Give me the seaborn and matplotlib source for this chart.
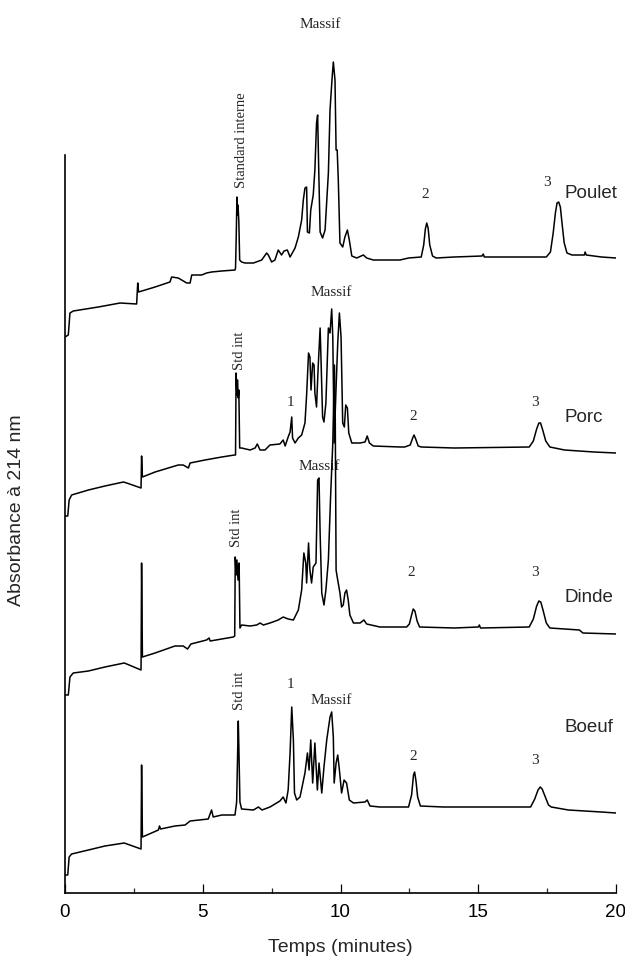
import matplotlib
matplotlib.use("Agg")
import matplotlib.pyplot as plt
import seaborn as sns

# Chromatogrammes (absorbance a 214 nm) des quatre viandes, traces empiles
# temps en minutes, absorbance en unites arbitraires (decalage compris)
poulet_t = [0.00, 0.12, 0.18, 0.30, 1.21, 2.00, 2.60, 2.64, 2.67, 3.27, 3.81, 3.87, 4.11, 4.42,
            4.54, 4.60, 4.96, 5.14, 5.32, 5.69, 6.17, 6.19, 6.22, 6.24, 6.26, 6.28, 6.31, 6.34,
            6.41, 6.53, 6.84, 7.14, 7.32, 7.38, 7.50, 7.62, 7.74, 7.86, 7.95, 8.07, 8.17, 8.35,
            8.47, 8.59, 8.65, 8.71, 8.77, 8.80, 8.87, 8.92, 9.01, 9.07, 9.13, 9.17, 9.21, 9.26,
            9.35, 9.44, 9.56, 9.62, 9.69, 9.74, 9.80, 9.84, 9.88, 9.92, 9.98, 10.08, 10.16,
            10.25, 10.32, 10.41, 10.59, 10.83, 10.95, 11.19, 12.16, 12.47, 12.93, 13.02, 13.08,
            13.13, 13.18, 13.24, 13.34, 13.47, 14.13, 15.14, 15.18, 15.22, 17.47, 17.62, 17.72,
            17.80, 17.86, 17.92, 17.98, 18.04, 18.12, 18.22, 18.40, 18.85, 18.88, 18.92, 19.47,
            20.00]
poulet_abs = [556, 558, 580, 582, 586, 590, 589, 610, 601, 606, 611, 616, 615, 610,
              610, 618, 618, 620, 621, 622, 623, 625, 663, 696, 678, 688, 671, 633,
              631, 630, 630, 633, 640, 638, 631, 633, 643, 638, 642, 643, 636, 645,
              656, 673, 693, 705, 706, 661, 660, 683, 698, 723, 770, 778, 723, 661,
              655, 663, 720, 783, 813, 831, 813, 743, 743, 713, 650, 646, 656,
              663, 653, 637, 635, 638, 635, 633, 633, 635, 636, 648, 664,
              670, 665, 648, 637, 635, 636, 637, 639, 636, 636, 641, 660,
              680, 690, 691, 686, 670, 650, 640, 638, 638, 641, 638, 636,
              635]

porc_t = [0.00, 0.10, 0.15, 0.24, 0.85, 1.45, 2.12, 2.24, 2.76, 2.78, 2.81, 3.27, 4.11, 4.29,
          4.48, 4.54, 5.08, 5.69, 6.15, 6.19, 6.21, 6.24, 6.26, 6.29, 6.31, 6.34, 6.41, 6.72,
          6.90, 6.98, 7.08, 7.26, 7.44, 7.80, 7.92, 7.99, 8.10, 8.17, 8.23, 8.26, 8.35, 8.47,
          8.59, 8.71, 8.77, 8.84, 8.89, 8.93, 8.99, 9.04, 9.07, 9.13, 9.19, 9.26, 9.29, 9.35,
          9.40, 9.47, 9.56, 9.62, 9.68, 9.72, 9.77, 9.84, 9.90, 9.96, 10.02, 10.08, 10.14,
          10.19, 10.25, 10.30, 10.41, 10.71, 10.89, 10.97, 11.05, 11.19, 12.16, 12.33, 12.53,
          12.62, 12.67, 12.73, 12.82, 12.93, 14.13, 16.85, 17.00, 17.12, 17.20, 17.26, 17.34,
          17.45, 17.60, 18.13, 19.20, 20.00]
porc_abs = [377, 377, 393, 398, 403, 407, 411, 410, 405, 437, 416, 421, 428, 428,
            425, 430, 433, 436, 438, 438, 520, 498, 513, 495, 503, 445, 445, 443,
            445, 449, 443, 443, 448, 449, 453, 447, 456, 461, 476, 455, 450, 455,
            458, 470, 498, 540, 536, 503, 530, 528, 500, 486, 526, 565, 536, 476,
            471, 490, 565, 560, 584, 556, 450, 506, 550, 580, 556, 470, 466,
            488, 485, 460, 450, 450, 451, 457, 450, 447, 446, 446, 448,
            455, 458, 454, 447, 446, 445, 446, 452, 464, 470, 470, 463,
            452, 446, 443, 441, 440]

dinde_t = [0.00, 0.12, 0.18, 0.30, 0.85, 1.45, 2.15, 2.24, 2.76, 2.78, 2.81, 3.27, 3.99, 4.29,
           4.45, 4.57, 5.14, 5.23, 5.27, 5.69, 6.11, 6.16, 6.18, 6.21, 6.24, 6.28, 6.32, 6.35,
           6.41, 6.72, 6.96, 7.08, 7.20, 7.44, 7.74, 7.92, 8.10, 8.29, 8.47, 8.59, 8.67, 8.74,
           8.77, 8.84, 8.89, 8.95, 9.01, 9.11, 9.17, 9.22, 9.26, 9.32, 9.40, 9.47, 9.56, 9.64,
           9.72, 9.78, 9.81, 9.84, 9.88, 9.98, 10.04, 10.10, 10.16, 10.22, 10.28, 10.34, 10.47,
           10.71, 10.85, 10.95, 11.43, 12.16, 12.40, 12.50, 12.58, 12.64, 12.70, 12.78, 12.87,
           14.13, 15.00, 15.04, 15.08, 16.85, 17.00, 17.12, 17.20, 17.27, 17.35, 17.47, 17.60,
           18.67, 18.80, 20.00]
dinde_abs = [198, 198, 216, 220, 222, 226, 230, 229, 223, 330, 236, 240, 247, 247,
             244, 249, 253, 255, 252, 254, 256, 257, 336, 318, 333, 313, 330, 265,
             268, 267, 268, 270, 268, 270, 273, 276, 274, 273, 283, 303, 340, 330,
             310, 350, 323, 310, 326, 330, 413, 415, 360, 300, 288, 303, 333, 396,
             450, 528, 473, 323, 316, 300, 286, 288, 300, 303, 293, 278, 270,
             270, 273, 269, 266, 266, 266, 269, 278, 284, 282, 272, 266,
             265, 266, 268, 265, 266, 274, 287, 292, 291, 283, 270, 265,
             263, 260, 259]

boeuf_t = [0.00, 0.10, 0.15, 0.24, 0.85, 1.45, 2.15, 2.76, 2.78, 2.81, 3.39, 3.43, 3.47, 3.99,
           4.36, 4.54, 5.20, 5.32, 5.38, 5.69, 6.17, 6.23, 6.29, 6.31, 6.35, 6.41, 6.84, 7.02,
           7.15, 7.44, 7.80, 7.92, 8.02, 8.10, 8.17, 8.23, 8.29, 8.33, 8.41, 8.53, 8.71, 8.80,
           8.86, 8.92, 8.99, 9.07, 9.16, 9.22, 9.32, 9.40, 9.50, 9.62, 9.68, 9.74, 9.77, 9.84,
           9.90, 9.96, 10.04, 10.13, 10.22, 10.32, 10.47, 10.89, 10.97, 11.07, 11.43, 12.16,
           12.47, 12.58, 12.65, 12.69, 12.74, 12.80, 12.90, 13.73, 16.90, 17.05, 17.17, 17.25,
           17.32, 17.42, 17.55, 17.65, 18.27, 19.47, 20.00]
boeuf_abs = [18, 18, 36, 39, 43, 47, 50, 44, 128, 56, 63, 67, 64, 67,
             68, 72, 74, 83, 76, 78, 78, 91, 172, 146, 91, 84, 83, 86,
             83, 86, 92, 96, 90, 103, 140, 186, 153, 100, 93, 96, 120, 140,
             123, 153, 110, 150, 103, 130, 100, 126, 153, 176, 181, 156, 110, 130,
             138, 123, 100, 113, 110, 93, 90, 91, 93, 87, 86, 86,
             86, 98, 118, 121, 112, 96, 87, 86, 86, 94, 103, 106,
             104, 97, 88, 86, 83, 81, 80]

echantillons = ["Poulet", "Porc", "Dinde", "Boeuf"]
traces = [(poulet_t, poulet_abs), (porc_t, porc_abs), (dinde_t, dinde_abs), (boeuf_t, boeuf_abs)]

sns.set_style("white")
plt.rcParams['font.family'] = ['Liberation Sans', 'DejaVu Sans']
serif = ['Liberation Serif', 'DejaVu Serif']

fig = plt.figure(figsize=(6.25, 9.61), dpi=100)
ax = fig.add_axes([65 / 625, 68 / 961, 551 / 625, 893 / 961])

for t, a in traces:
    sns.lineplot(x=t, y=a, ax=ax, color="black", linewidth=1.1,
                 estimator=None, sort=False, zorder=3)

ax.set_xlim(0, 20)
ax.set_ylim(0, 893)

# annotations des pics
ax.text(9.26, 869, "Massif", family=serif, fontsize=11, ha="center", va="center")
ax.text(6.41, 705, "Standard interne", family=serif, fontsize=10.5, rotation=90,
        ha="center", va="bottom")
ax.text(13.07, 698, "2", family=serif, fontsize=11, ha="center", va="center")
ax.text(17.50, 711, "3", family=serif, fontsize=11, ha="center", va="center")

ax.text(9.66, 601, "Massif", family=serif, fontsize=11, ha="center", va="center")
ax.text(6.35, 523, "Std int", family=serif, fontsize=10.5, rotation=90, ha="center", va="bottom")
ax.text(8.17, 490, "1", family=serif, fontsize=11, ha="center", va="center")
ax.text(12.63, 476, "2", family=serif, fontsize=11, ha="center", va="center")
ax.text(17.06, 490, "3", family=serif, fontsize=11, ha="center", va="center")

ax.text(9.22, 426, "Massif", family=serif, fontsize=11, ha="center", va="center", zorder=1)
ax.text(6.23, 346, "Std int", family=serif, fontsize=10.5, rotation=90, ha="center", va="bottom")
ax.text(12.57, 320, "2", family=serif, fontsize=11, ha="center", va="center")
ax.text(17.06, 320, "3", family=serif, fontsize=11, ha="center", va="center")

ax.text(6.35, 183, "Std int", family=serif, fontsize=10.5, rotation=90, ha="center", va="bottom")
ax.text(8.17, 209, "1", family=serif, fontsize=11, ha="center", va="center")
ax.text(9.66, 193, "Massif", family=serif, fontsize=11, ha="center", va="center")
ax.text(12.63, 136, "2", family=serif, fontsize=11, ha="center", va="center")
ax.text(17.06, 133, "3", family=serif, fontsize=11, ha="center", va="center")

# nom de chaque echantillon a droite
for nom, h in zip(echantillons, [700, 476, 296, 166]):
    ax.text(18.14, h, nom, fontsize=13.5, ha="left", va="center")

# axes : seulement gauche et bas, pas de graduation en y
sns.despine(ax=ax)
ax.spines["left"].set_bounds(0, 738)
for s in ["left", "bottom"]:
    ax.spines[s].set_linewidth(1.2)
    ax.spines[s].set_color("black")
ax.set_yticks([])
ax.set_xticks([0, 5, 10, 15, 20])
ax.set_xticks([2.5, 7.5, 12.5, 17.5], minor=True)
ax.tick_params(axis="x", which="major", direction="in", length=6.7, width=0.9,
               pad=8, labelsize=13.5, colors="black", bottom=True)
ax.tick_params(axis="x", which="minor", direction="in", length=3.6, width=0.9, bottom=True)
ax.set_xlabel("Temps (minutes)", fontsize=14, labelpad=13)
fig.text(17 / 625, 1 - 510 / 961, "Absorbance à 214 nm", fontsize=14,
         rotation=90, ha="center", va="center")

fig.savefig("out.png", dpi=100)
